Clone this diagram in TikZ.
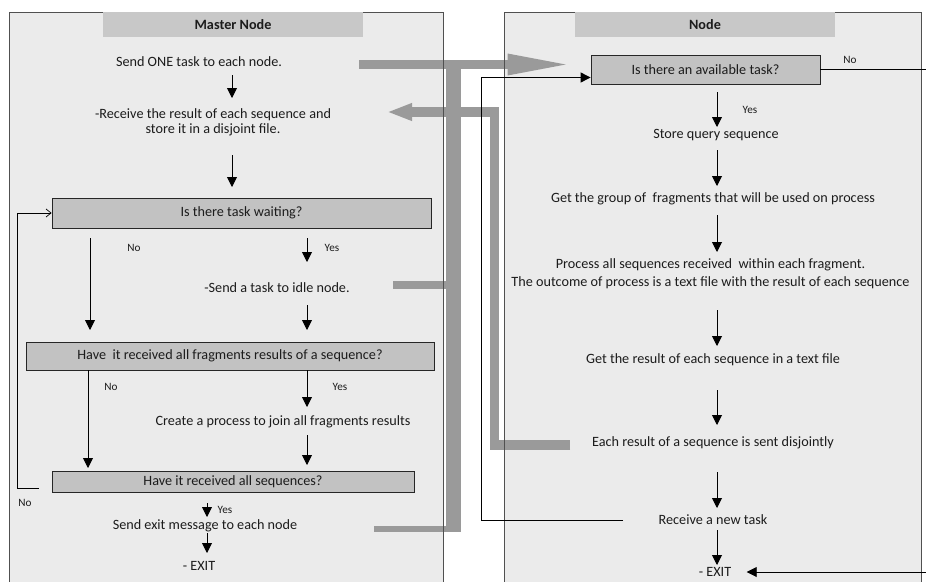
\documentclass[tikz,border=0pt]{standalone}
\usepackage{fontspec}
\setmainfont{Carlito}
\usetikzlibrary{arrows.meta,calc}
\definecolor{panelfill}{HTML}{EBEBEB}
\definecolor{titlefill}{HTML}{C8C8C8}
\definecolor{boxfill}{HTML}{C2C2C2}
\definecolor{busgray}{HTML}{9A9A9A}
\definecolor{txt}{HTML}{1C1C1C}
\definecolor{panelborder}{HTML}{505050}
\begin{document}
\begin{tikzpicture}[x=1pt,y=-1pt,
  every node/.style={text=txt, font=\fontsize{14.2}{16}\selectfont},
  lbl/.style={font=\fontsize{11.2}{12}\selectfont},
  decision/.style={draw=black!85, fill=boxfill, line width=0.8pt, inner sep=0pt},
  titlebar/.style={fill=titlefill, inner sep=0pt, minimum width=260pt, minimum height=25pt, font=\bfseries\fontsize{14.2}{16}\selectfont},
  arr/.style={draw=black, line width=0.9pt, -{Triangle[length=10pt,width=10pt]}},
  thinline/.style={draw=black, line width=0.8pt},
  bus/.style={draw=busgray}
]
\useasboundingbox (0,0) rectangle (926,581);
\fill[white] (0,0) rectangle (926,581);

% panels
\fill[panelfill] (9,12) rectangle (443,600);
\fill[panelfill] (504,12) rectangle (921,600);

% text nodes - left
\node (send1) at (199,62) {Send ONE task to each node.};
\node[align=center, font=\fontsize{14.2}{15}\selectfont] (recv) at (213,122.5) {-Receive the result of each sequence and\\store it in a disjoint file.};
\node (idle) at (277,288) {-Send a task to idle node.};
\node (join) at (283,422) {Create a process to join all fragments results};
\node (exitmsg) at (205,526) {Send exit message to each node};
\node (exit1) at (199,566) {- EXIT};

% text nodes - right
\node (store) at (716,135) {Store query sequence};
\node (group) at (713,199) {Get the group of\ \ fragments that will be used on process};
\node[align=center, font=\fontsize{14.2}{18}\selectfont] (proc) at (710.5,274) {Process all sequences received\ \ within each fragment.\\The outcome of process is a text file with the result of each sequence};
\node (result) at (713,360) {Get the result of each sequence in a text file};
\node (sent) at (713,443) {Each result of a sequence is sent disjointly};
\node (recvnew) at (713,520) {Receive a new task};
\node (exit2) at (715,572) {- EXIT};

% bus coordinates
\coordinate (bA0) at (359,64.5);
\coordinate (bAtop) at (453.5,60);
\coordinate (bAbot) at (453.5,532);
\coordinate (bI0) at (393,285);
\coordinate (bE0) at (374,529);
\coordinate (bB0) at (570,445);
\coordinate (bB1) at (494.5,445);
\coordinate (bB2) at (494.5,112);
\coordinate (bB3) at (387,112);

% decision box (bus target)
\node[decision, minimum width=229pt, minimum height=29pt] (avail) at (705.5,69.5) {Is there an available task?};

% gray buses
\draw[bus, line width=9pt, shorten >=18pt, -{Triangle[length=65pt,width=19pt]}] (bA0) -- (bA0 -| avail.west);
\draw[bus, line width=15pt] (bAtop) -- (bAbot);
\draw[bus, line width=8pt] (bI0) -- (bI0 -| bAtop);
\draw[bus, line width=6.5pt] (bE0) -- (bE0 -| bAtop);
\draw[bus, line width=9.5pt, line join=miter, -{Triangle[length=25pt,width=16pt]}] (bB0) -- (bB1) -- (bB2) -- (bB3);

% panel borders and titles
\draw[panelborder, line width=0.9pt] (9,600) -- (9,12) -- (443,12) -- (443,600);
\draw[panelborder, line width=0.9pt] (504,600) -- (504,12) -- (921,12) -- (921,600);
\node[titlebar] (mtitle) at (233,24.5) {Master Node};
\node[titlebar] (ntitle) at (705,24.5) {Node};

% decision boxes
\node[decision, minimum width=379pt, minimum height=30pt] (wait) at (241.5,213) {Is there task waiting?};
\node[decision, minimum width=408pt, minimum height=28pt] (frag) at (230,356) {Have\ \ it received all fragments results of a sequence?};
\node[decision, minimum width=362pt, minimum height=21pt] (seqs) at (233,481.5) {Have it received all sequences?};
\node[decision, minimum width=229pt, minimum height=29pt] (avail2) at (705.5,69.5) {Is there an available task?};

% labels
\node[lbl] (lNo1) at (134,248) {No};
\node[lbl] (lYes1) at (332,248) {Yes};
\node[lbl] (lNo2) at (111,387) {No};
\node[lbl] (lYes2) at (340,387) {Yes};
\node[lbl] (lNo3) at (25,503) {No};
\node[lbl] (lYes3) at (225,510) {Yes};
\node[lbl] (lNo4) at (850,60) {No};
\node[lbl] (lYes4) at (750,110) {Yes};

% arrow x positions
\coordinate (xA) at (232,0);
\coordinate (xN1) at (90,0);
\coordinate (xY) at (307,0);
\coordinate (xN2) at (88,0);
\coordinate (xE) at (207,0);
\coordinate (xR) at (717,0);

% left arrows
\draw[arr, shorten <=13pt, shorten >=24.5pt] (xA |- send1.center) -- (xA |- recv.center);
\draw[arr, shorten <=32.5pt, shorten >=26pt] (xA |- recv.center) -- (xA |- wait.center);
\draw[arr, shorten <=25pt, shorten >=26pt] (xN1 |- wait.center) -- (xN1 |- frag.center);
\draw[arr, shorten <=25pt, shorten >=26pt] (xY |- wait.center) -- (xY |- idle.center);
\draw[arr, shorten <=17pt, shorten >=26pt] (xY |- idle.center) -- (xY |- frag.center);
\draw[arr, shorten <=14pt, shorten >=13.5pt] (xN2 |- frag.center) -- (xN2 |- seqs.center);
\draw[arr, shorten <=14pt, shorten >=15pt] (xY |- frag.center) -- (xY |- join.center);
\draw[arr, shorten <=13pt, shorten >=16.5pt] (xY |- join.center) -- (xY |- seqs.center);
\draw[arr, shorten <=21.5pt, shorten >=9pt] (xE |- seqs.center) -- (xE |- exitmsg.center);
\draw[arr, shorten <=7pt, shorten >=13pt] (xE |- exitmsg.center) -- (xE |- exit1.center);

% loop back to "Is there task waiting?"
\coordinate (loopS) at (39,488);
\draw[thinline, line width=0.7pt, -{Straight Barb[length=5pt,width=8pt]}] (loopS) -- ++(-22,0) |- (wait.west);

% right arrows
\draw[arr, shorten <=22.5pt, shorten >=8pt] (xR |- avail2.center) -- (xR |- store.center);
\draw[arr, shorten <=15pt, shorten >=13pt] (xR |- store.center) -- (xR |- group.center);
\draw[arr, shorten <=16pt, shorten >=22pt] (xR |- group.center) -- (xR |- proc.center);
\draw[arr, shorten <=36pt, shorten >=14pt] (xR |- proc.center) -- (xR |- result.center);
\draw[arr, shorten <=30pt, shorten >=18pt] (xR |- result.center) -- (xR |- sent.center);
\draw[arr, shorten <=29pt, shorten >=12pt] (xR |- sent.center) -- (xR |- recvnew.center);
\draw[arr, shorten <=10pt, shorten >=7pt] (xR |- recvnew.center) -- (xR |- exit2.center);

% receive a new task -> available task
\draw[arr] ([xshift=-32pt]recvnew.west) -- ++(-142,0) |- ([yshift=-8pt]avail2.west);

% No from available task -> EXIT
\draw[arr, shorten >=12pt] (avail2.east) -- ++(110,0) |- (exit2.east);
\end{tikzpicture}
\end{document}
